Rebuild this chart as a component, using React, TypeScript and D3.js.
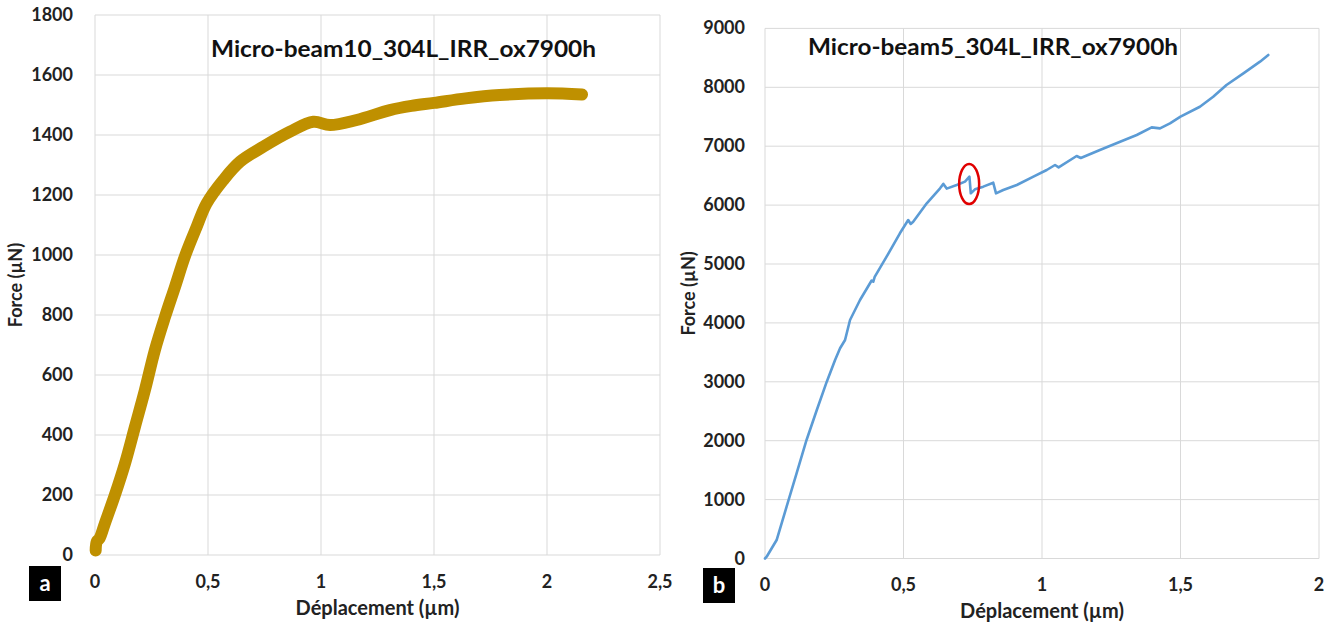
import React from "react";
import * as d3 from "d3";

// ---- Data ----
const leftTitle = "Micro-beam10_304L_IRR_ox7900h";
const rightTitle = "Micro-beam5_304L_IRR_ox7900h";
const xAxisTitle = "Déplacement (µm)";
const yAxisTitle = "Force (µN)";

const leftXTicks = [0, 0.5, 1, 1.5, 2, 2.5];
const leftYTicks = [0, 200, 400, 600, 800, 1000, 1200, 1400, 1600, 1800];
const rightXTicks = [0, 0.5, 1, 1.5, 2];
const rightYTicks = [0, 1000, 2000, 3000, 4000, 5000, 6000, 7000, 8000, 9000];

const leftDisp = [
  0.003, 0.008, 0.02, 0.044, 0.088, 0.133, 0.177, 0.221, 0.265, 0.31, 0.354,
  0.4, 0.45, 0.494, 0.568, 0.642, 0.745, 0.863, 0.966, 1.04, 1.158, 1.305,
  1.4, 1.5, 1.64, 1.79, 2.0, 2.155,
];
const leftForce = [
  15, 45, 55, 106, 200, 306, 428, 550, 683, 794, 894, 1000, 1094, 1172, 1250,
  1311, 1361, 1411, 1444, 1433, 1450, 1483, 1497, 1507, 1522, 1533, 1539, 1535,
];

const rightDisp = [
  0.0, 0.006, 0.042, 0.078, 0.114, 0.15, 0.187, 0.223, 0.253, 0.271, 0.289,
  0.307, 0.343, 0.385, 0.391, 0.396, 0.439, 0.487, 0.517, 0.526, 0.535, 0.584,
  0.632, 0.644, 0.656, 0.692, 0.722, 0.738, 0.743, 0.758, 0.788, 0.824, 0.834,
  0.86, 0.909, 0.969, 1.017, 1.047, 1.06, 1.125, 1.14, 1.209, 1.282, 1.342,
  1.396, 1.426, 1.462, 1.5, 1.57, 1.618, 1.666, 1.727, 1.787, 1.817,
];
const rightForce = [
  0, 30, 314, 880, 1447, 2012, 2521, 3002, 3370, 3569, 3710, 4049, 4389, 4720,
  4700, 4780, 5124, 5521, 5747, 5680, 5718, 6031, 6285, 6360, 6280, 6341, 6398,
  6483, 6200, 6268, 6313, 6380, 6200, 6256, 6341, 6483, 6596, 6681, 6640, 6834,
  6800, 6936, 7076, 7190, 7320, 7303, 7388, 7501, 7670, 7840, 8039, 8237, 8435,
  8549,
];

// highlighted event on the right curve
const eventDisp = [0.737];
const eventForce = [6358];

const FONT = "Lato, 'Open Sans', sans-serif";
const GRID = "#d9d9d9";

type PanelProps = {
  x0: number; x1: number; y0: number; y1: number;
  xDomain: [number, number]; yDomain: [number, number];
  xTicks: number[]; yTicks: number[];
  xs: number[]; ys: number[];
  color: string; width: number; smooth: boolean;
  title: string; titleX: number; titleY: number; titleLen: number;
  letter: string; letterX: number; letterY: number;
  yTitleX: number; xTitleY: number; xTickY: number; yTickGap: number;
  children?: (x: d3.ScaleLinear<number, number>, y: d3.ScaleLinear<number, number>) => React.ReactNode;
};

const fmt = (v: number) => String(v).replace(".", ",");

function Panel(p: PanelProps) {
  const x = d3.scaleLinear().domain(p.xDomain).range([p.x0, p.x1]);
  const y = d3.scaleLinear().domain(p.yDomain).range([p.y0, p.y1]);
  const pts: [number, number][] = p.xs.map((v, i) => [v, p.ys[i]]);
  const line = d3
    .line<[number, number]>()
    .x((d) => x(d[0]))
    .y((d) => y(d[1]))
    .curve(p.smooth ? d3.curveCatmullRom : d3.curveLinear);
  return (
    <g>
      {p.yTicks.map((t) => (
        <line key={"h" + t} x1={p.x0} x2={p.x1} y1={y(t)} y2={y(t)} stroke={GRID} strokeWidth={1} />
      ))}
      {p.xTicks.map((t) => (
        <line key={"v" + t} x1={x(t)} x2={x(t)} y1={p.y0} y2={p.y1} stroke={GRID} strokeWidth={1} />
      ))}
      <path
        d={line(pts) || ""}
        fill="none"
        stroke={p.color}
        strokeWidth={p.width}
        strokeLinejoin="round"
        strokeLinecap="round"
      />
      {p.children ? p.children(x, y) : null}
      {p.yTicks.map((t) => (
        <text
          key={"yl" + t}
          x={p.x0 - p.yTickGap}
          y={y(t) + 6}
          textAnchor="end"
          fontFamily={FONT}
          fontWeight={700}
          fontSize={18}
          fill="#222"
        >
          {fmt(t)}
        </text>
      ))}
      {p.xTicks.map((t) => (
        <text
          key={"xl" + t}
          x={x(t)}
          y={p.xTickY}
          textAnchor="middle"
          fontFamily={FONT}
          fontWeight={700}
          fontSize={18}
          fill="#222"
        >
          {fmt(t)}
        </text>
      ))}
      <text
        x={(p.x0 + p.x1) / 2}
        y={p.xTitleY}
        textAnchor="middle"
        fontFamily={FONT}
        fontWeight={700}
        fontSize={20}
        fill="#222"
      >
        {xAxisTitle}
      </text>
      <text
        transform={`translate(${p.yTitleX},${(p.y0 + p.y1) / 2}) rotate(-90)`}
        textAnchor="middle"
        fontFamily={FONT}
        fontWeight={700}
        fontSize={18}
        fill="#222"
      >
        {yAxisTitle}
      </text>
      <text
        x={p.titleX}
        y={p.titleY}
        fontFamily={FONT}
        fontWeight={700}
        fontSize={23}
        fill="#111"
        textLength={p.titleLen}
        lengthAdjust="spacingAndGlyphs"
      >
        {p.title}
      </text>
      <rect x={p.letterX} y={p.letterY} width={32} height={35} fill="#000" />
      <text
        x={p.letterX + 16}
        y={p.letterY + 25}
        textAnchor="middle"
        fontFamily={FONT}
        fontWeight={700}
        fontSize={22}
        fill="#fff"
      >
        {p.letter}
      </text>
    </g>
  );
}

export default function App() {
  return (
    <svg
      width={1336}
      height={623}
      style={{ position: "absolute", left: 0, top: 0, background: "#fff" }}
    >
      <rect x={0} y={0} width={1336} height={623} fill="#fff" />
      <Panel
        x0={95} x1={660} y0={555} y1={15}
        xDomain={[0, 2.5]} yDomain={[0, 1800]}
        xTicks={leftXTicks} yTicks={leftYTicks}
        xs={leftDisp} ys={leftForce}
        color="#bf9000" width={12} smooth={true}
        title={leftTitle} titleX={211} titleY={57} titleLen={385}
        letter="a" letterX={29} letterY={566}
        yTitleX={22} xTitleY={615} xTickY={588} yTickGap={22}
      />
      <Panel
        x0={765} x1={1319} y0={558.5} y1={28.4}
        xDomain={[0, 2]} yDomain={[0, 9000]}
        xTicks={rightXTicks} yTicks={rightYTicks}
        xs={rightDisp} ys={rightForce}
        color="#5b9bd5" width={2.6} smooth={false}
        title={rightTitle} titleX={808} titleY={55} titleLen={370}
        letter="b" letterX={703} letterY={568}
        yTitleX={695} xTitleY={618} xTickY={591} yTickGap={20}
      >
        {(x, y) =>
          eventDisp.map((v, i) => (
            <ellipse
              key={"ev" + i}
              cx={x(v)}
              cy={y(eventForce[i])}
              rx={10}
              ry={20}
              fill="none"
              stroke="#e00000"
              strokeWidth={2.5}
            />
          ))
        }
      </Panel>
    </svg>
  );
}
